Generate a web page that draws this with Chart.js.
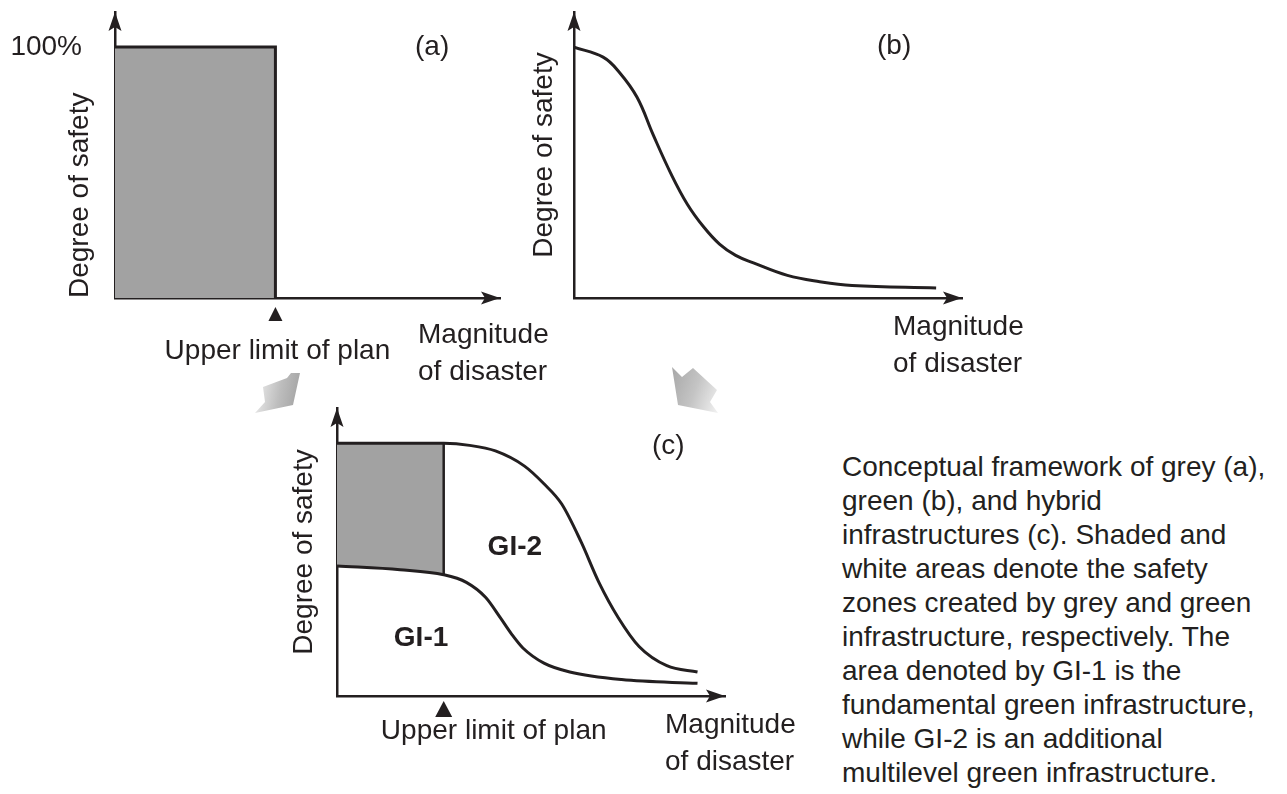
<!DOCTYPE html>
<html>
<head>
<meta charset="utf-8">
<script src="https://cdn.jsdelivr.net/npm/chart.js@4.4.1/dist/chart.umd.min.js"></script>
<style>
  html, body { margin: 0; padding: 0; background: #fff; }
  body { width: 1287px; height: 794px; position: relative; overflow: hidden;
         font-family: 'Liberation Sans', Arial, sans-serif; color: #231f20; }
  canvas { position: absolute; }
  .mag { position: absolute; font-size: 28px; line-height: 37px; white-space: nowrap; }
  .tag { position: absolute; font-size: 28px; line-height: 34px; white-space: nowrap; }
  #caption { position: absolute; left: 842px; top: 450px; font-size: 28px; line-height: 34px; white-space: nowrap; }
  .flow { position: absolute; }
  #flowA { left: 253px; top: 372px; width: 48px; height: 42px;
           clip-path: polygon(10px 15px, 34px 6px, 38px 1px, 47px 1px, 40px 33px, 2px 41px, 12px 30px);
           background: linear-gradient(100deg, #f4f4f4 0%, #bdbdbd 55%, #9e9e9e 100%); }
  #flowB { left: 671px; top: 366px; width: 48px; height: 48px;
           clip-path: polygon(1px 1px, 11px 11px, 22px 2px, 46px 24px, 39px 36px, 47px 47px, 7px 39px);
           background: linear-gradient(110deg, #a6a6a6 0%, #c4c4c4 50%, #f4f4f4 100%); }
</style>
</head>
<body>
<canvas id="panel-a" width="520" height="400" style="left:0px;top:0px;width:520px;height:400px"></canvas>
<canvas id="panel-b" width="540" height="400" style="left:520px;top:0px;width:540px;height:400px"></canvas>
<canvas id="panel-c" width="590" height="414" style="left:240px;top:380px;width:590px;height:414px"></canvas>

<div class="tag" style="left:415px;top:29px">(a)</div>
<div class="tag" style="left:877px;top:28px">(b)</div>
<div class="tag" style="left:652px;top:428px">(c)</div>

<div class="mag" style="left:418px;top:315px">Magnitude<br>of disaster</div>
<div class="mag" style="left:893px;top:307px">Magnitude<br>of disaster</div>
<div class="mag" style="left:665px;top:705px">Magnitude<br>of disaster</div>

<div class="flow" id="flowA"></div>
<div class="flow" id="flowB"></div>

<div id="caption">Conceptual framework of grey (a),<br>green (b), and hybrid<br>infrastructures (c). Shaded and<br>white areas denote the safety<br>zones created by grey and green<br>infrastructure, respectively. The<br>area denoted by GI-1 is the<br>fundamental green infrastructure,<br>while GI-2 is an additional<br>multilevel green infrastructure.</div>

<script>
// x = magnitude of disaster (arbitrary units), y = degree of safety (%)
const X_MAX = 120;
const Y_MAX = 114;
const safetyTitle = 'Degree of safety';
const planLabel = 'Upper limit of plan';

// (a) grey infrastructure: 100% safe up to the plan limit, nothing beyond
const planTicksA = [50];
const greyX = [0, 50, 50];
const greyY = [100, 100, 0];
const safetyTicksA = [100];
const safetyTickLabel = '100%';

// (b) green infrastructure: safety decays smoothly
const greenX = [0, 9, 14, 19.5, 24.5, 30, 35, 40, 45, 50, 55.5, 66, 76, 86, 112];
const greenY = [100, 96, 90, 80, 65, 49.5, 37.5, 28.5, 21.5, 17, 14, 9, 6.5, 5, 4];

// (c) hybrid: grey block on top of GI-1, GI-2 extends beyond the plan limit
const planTicksC = [33];
const gi2X = [0, 33, 41, 49, 58, 64, 69.5, 75.5, 81, 87, 93.5, 102, 111.5];
const gi2Y = [100, 100, 99.2, 97, 91, 84, 76, 61, 45, 31, 19.5, 12, 9.5];
const gi1X = [0, 19.5, 33, 40, 46, 50.5, 54, 57.5, 64, 72, 88, 111.5];
const gi1Y = [51.5, 50, 48, 45, 39, 31, 24.5, 19, 13, 9.5, 6.5, 5];
const shadeX = [0, 19.5, 33];
const shadeY = [51.5, 50, 48];
const dividerX = [33, 33];
const dividerY = [48, 100];
const zoneNames = ['GI-1', 'GI-2'];
const zoneX = [26, 55];
const zoneY = [23, 59];

const INK = '#231f20';
const GREY = '#a2a2a2';
const FONT = "'Liberation Sans', Arial, sans-serif";
Chart.defaults.font.family = FONT;
Chart.defaults.color = INK;

const pts = (xs, ys) => xs.map((x, i) => ({ x, y: ys[i] }));

// axis arrowheads, plan-limit triangles, the 100% mark and zone names
const axisDecor = {
  id: 'axisDecor',
  afterDraw(chart, args, opts) {
    const { ctx, chartArea: a, scales } = chart;
    ctx.save();
    ctx.fillStyle = INK;
    ctx.beginPath();
    ctx.moveTo(a.left, a.top);
    ctx.lineTo(a.left + 6.5, a.top + 19);
    ctx.lineTo(a.left, a.top + 15);
    ctx.lineTo(a.left - 6.5, a.top + 19);
    ctx.closePath();
    ctx.fill();
    ctx.beginPath();
    ctx.moveTo(a.right, a.bottom);
    ctx.lineTo(a.right - 19, a.bottom - 6.5);
    ctx.lineTo(a.right - 15, a.bottom);
    ctx.lineTo(a.right - 19, a.bottom + 6.5);
    ctx.closePath();
    ctx.fill();
    if (opts.marker) {
      const m = opts.marker;
      scales.x.ticks.forEach(t => {
        const px = scales.x.getPixelForValue(t.value);
        ctx.beginPath();
        ctx.moveTo(px, a.bottom + m.gap);
        ctx.lineTo(px + m.w / 2, a.bottom + m.gap + m.h);
        ctx.lineTo(px - m.w / 2, a.bottom + m.gap + m.h);
        ctx.closePath();
        ctx.fill();
      });
    }
    if (opts.yMark) {
      ctx.font = '28px ' + FONT;
      ctx.textAlign = 'right';
      ctx.textBaseline = 'middle';
      opts.yMark.values.forEach(v => {
        ctx.fillText(opts.yMark.text, a.left - 33, scales.y.getPixelForValue(v));
      });
    }
    if (opts.zones) {
      ctx.font = 'bold 28px ' + FONT;
      ctx.textAlign = 'center';
      ctx.textBaseline = 'middle';
      opts.zones.names.forEach((n, i) => {
        ctx.fillText(n, scales.x.getPixelForValue(opts.zones.x[i]), scales.y.getPixelForValue(opts.zones.y[i]));
      });
    }
    ctx.restore();
  }
};

function makePanel(id, cfg) {
  return new Chart(document.getElementById(id), {
    type: 'line',
    data: { datasets: cfg.datasets },
    plugins: [axisDecor],
    options: {
      responsive: false,
      animation: false,
      events: [],
      layout: { padding: cfg.pad },
      plugins: {
        legend: { display: false },
        tooltip: { enabled: false },
        axisDecor: { marker: cfg.marker, zones: cfg.zones, yMark: cfg.yMark }
      },
      elements: { point: { radius: 0 } },
      scales: {
        x: {
          type: 'linear', min: 0, max: X_MAX, z: 1,
          grid: { display: false, drawTicks: false },
          border: { display: true, color: INK, width: 2.5 },
          ticks: {
            display: !!cfg.xTicks, color: INK, font: { size: 28 },
            padding: cfg.xPad || 0, labelOffset: cfg.xOffset || 0,
            maxRotation: 0, minRotation: 0, autoSkip: false,
            callback: () => planLabel
          },
          afterBuildTicks: s => { if (cfg.xTicks) s.ticks = cfg.xTicks.map(v => ({ value: v })); },
          afterFit: s => { s.height = cfg.xHeight; }
        },
        y: {
          type: 'linear', min: 0, max: Y_MAX, z: 1,
          grid: { display: false, drawTicks: false },
          border: { display: true, color: INK, width: 2.5 },
          title: { display: true, text: safetyTitle, color: INK, font: { size: 28 }, align: cfg.titleAlign, padding: { top: 4, bottom: 4 } },
          ticks: { display: false },
          afterFit: s => { s.width = cfg.yWidth; }
        }
      }
    }
  });
}

makePanel('panel-a', {
  pad: { left: 59, top: 12, right: 20, bottom: 0 },
  yWidth: 56, xHeight: 102, titleAlign: 'start',
  xTicks: planTicksA, xPad: 36, xOffset: 2,
  yMark: { values: safetyTicksA, text: safetyTickLabel },
  marker: { gap: 9, w: 14, h: 14 },
  datasets: [
    { data: pts(greyX, greyY), borderColor: INK, borderWidth: 3, backgroundColor: GREY, fill: 'origin', tension: 0 }
  ]
});

makePanel('panel-b', {
  pad: { left: 3, top: 12, right: 98, bottom: 0 },
  yWidth: 51, xHeight: 102, titleAlign: 'center',
  datasets: [
    { data: pts(greenX, greenY), borderColor: INK, borderWidth: 3, fill: false, tension: 0.4 }
  ]
});

makePanel('panel-c', {
  pad: { left: 43, top: 28, right: 105, bottom: 0 },
  yWidth: 54, xHeight: 98, titleAlign: 'center',
  xTicks: planTicksC, xPad: 18, xOffset: 50,
  marker: { gap: 5, w: 17, h: 16 },
  zones: { names: zoneNames, x: zoneX, y: zoneY },
  datasets: [
    { data: pts(gi2X, gi2Y), borderColor: INK, borderWidth: 3, fill: false, cubicInterpolationMode: 'monotone' },
    { data: pts(gi1X, gi1Y), borderColor: INK, borderWidth: 3, fill: false, cubicInterpolationMode: 'monotone' },
    { data: pts(dividerX, dividerY), borderColor: INK, borderWidth: 2.5, fill: false, tension: 0 },
    { data: pts(shadeX, shadeY), borderColor: 'rgba(0,0,0,0)', borderWidth: 1, backgroundColor: GREY, fill: { value: 100 }, cubicInterpolationMode: 'monotone' }
  ]
});
</script>
</body>
</html>
